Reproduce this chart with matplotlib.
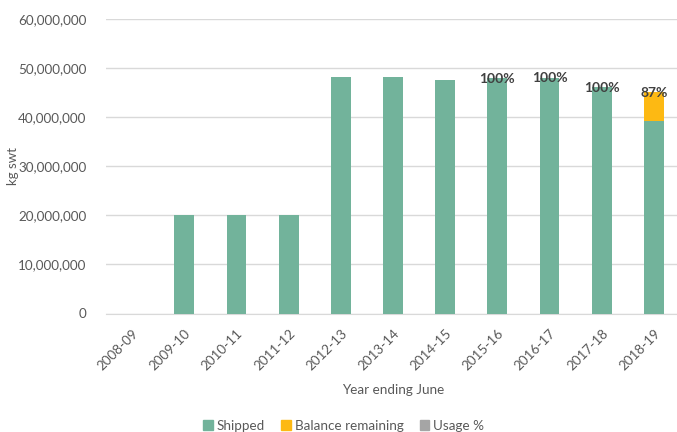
import numpy as np
import matplotlib
matplotlib.use('Agg')
import matplotlib.pyplot as plt
from matplotlib.patches import Patch
from matplotlib.ticker import FuncFormatter

plt.rcParams['font.family'] = ['Lato', 'DejaVu Sans']

years = ['2008-09', '2009-10', '2010-11', '2011-12', '2012-13', '2013-14',
         '2014-15', '2015-16', '2016-17', '2017-18', '2018-19']
shipped = [0, 20000000, 20000000, 20000000, 48200000, 48200000,
           47600000, 47900000, 48000000, 46100000, 39300000]
balance = [0, 0, 0, 0, 0, 0, 0, 0, 0, 0, 5800000]
usage = [None, None, None, None, None, None, None, 100, 100, 100, 87]

green = '#72B39B'
orange = '#FDB913'
grey = '#A5A5A5'
txt = '#595959'

fig = plt.figure(figsize=(6.77, 4.32), dpi=100)
ax = fig.add_axes([106/677, (432-313.5)/432, (680-106)/677, 294.5/432])

x = np.arange(len(years))
ax.bar(x, shipped, width=0.38, color=green, zorder=3)
ax.bar(x, balance, width=0.38, bottom=shipped, color=orange, zorder=3)

for i in range(len(years)):
    if usage[i] is not None:
        top = shipped[i] + balance[i]
        ax.text(x[i], top - 100000, '%d%%' % usage[i], ha='center', va='center',
                fontsize=10, fontweight='bold', color='#404040', zorder=4)

ax.set_xlim(-0.5, len(years) - 0.5)
ax.set_ylim(0, 60000000)
ax.set_yticks(np.arange(0, 60000001, 10000000))
ax.yaxis.set_major_formatter(FuncFormatter(lambda v, p: '{:,.0f}'.format(v)))
ax.grid(axis='y', color='#D9D9D9', linewidth=1, zorder=0)
ax.set_axisbelow(True)
for s in ['top', 'right', 'left']:
    ax.spines[s].set_visible(False)
ax.spines['bottom'].set_color('#D9D9D9')
ax.tick_params(length=0, labelsize=9.7, labelcolor=txt)
ax.tick_params(axis='y', pad=14)

ax.set_xticks(x)
ax.set_xticklabels(years, rotation=45, ha='right', rotation_mode='anchor')
ax.tick_params(axis='x', pad=10)

ax.set_ylabel('kg swt', fontsize=9.5, color=txt)
ax.yaxis.set_label_coords(-0.152, 0.5)
ax.set_xlabel('Year ending June', fontsize=9.7, color=txt, labelpad=8)

handles = [Patch(color=green, label='Shipped'),
           Patch(color=orange, label='Balance remaining'),
           Patch(color=grey, label='Usage %')]
leg = fig.legend(handles=handles, loc='lower center', bbox_to_anchor=(0.508, -0.027),
                 ncol=3, frameon=False, fontsize=9.7, handlelength=0.7,
                 handleheight=0.7, handletextpad=0.3, columnspacing=1.2)
for t in leg.get_texts():
    t.set_color(txt)

fig.savefig('out.png', dpi=100)
